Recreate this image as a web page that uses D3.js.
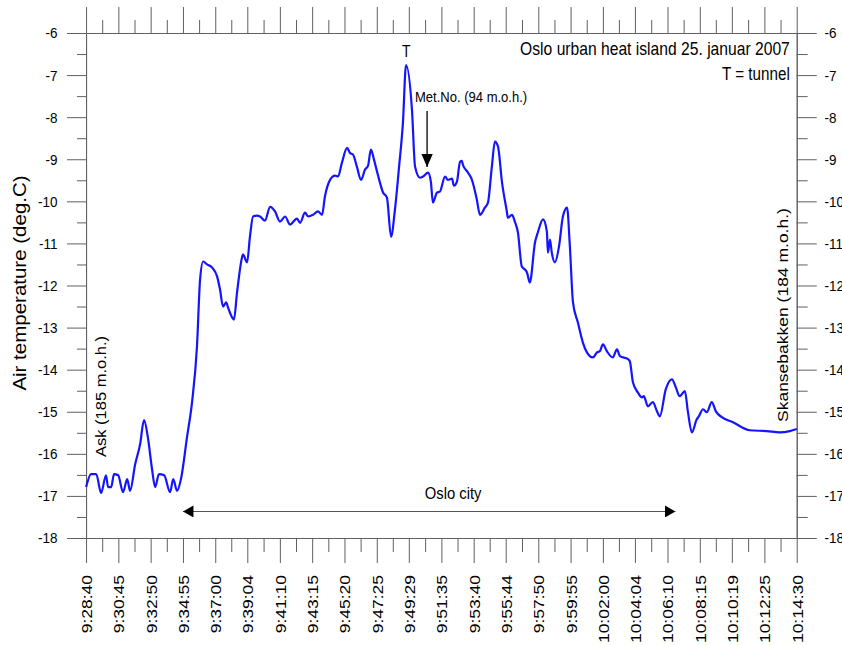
<!DOCTYPE html>
<html>
<head>
<meta charset="utf-8">
<title>Oslo urban heat island 25. januar 2007</title>
<style>
  body { margin: 0; background: #fff; }
  svg { display: block; }
  text { font-family: 'Liberation Sans', Arial, sans-serif; fill: #000; }
  .axis path, .axis line { stroke: #606060; stroke-width: 1px; vector-effect: non-scaling-stroke; }
  .axis text { fill: #000; }
</style>
</head>
<body>
<div id="chart"></div>
<script src="https://d3js.org/d3.v7.min.js"></script>
<script>
// time axis labels (hh:mm:ss), first one is where the run starts
var startTime = "9:28:40";
var timeLabels = ["9:28:40", "9:30:45", "9:32:50", "9:34:55", "9:37:00", "9:39:04",
    "9:41:10", "9:43:15", "9:45:20", "9:47:25", "9:49:29", "9:51:35", "9:53:40",
    "9:55:44", "9:57:50", "9:59:55", "10:02:00", "10:04:04", "10:06:10", "10:08:15",
    "10:10:19", "10:12:25", "10:14:30"];
var tempTicks = [-6, -7, -8, -9, -10, -11, -12, -13, -14, -15, -16, -17, -18];

// measurement run: seconds after start, air temperature (deg.C)
var elapsedSec = [0, 19, 39, 58, 77, 85, 97, 108, 124, 143, 159, 170, 190, 209, 224,
    240, 255, 267, 282, 302, 325, 337, 352, 367, 391, 410, 429, 441, 453, 468, 487,
    507, 518, 530, 542, 549, 565, 572, 584, 603, 607, 623, 634, 646, 661, 673, 692,
    712, 731, 750, 770, 789, 816, 828, 847, 859, 878, 897, 913, 924, 944, 963, 975,
    990, 1010, 1021, 1033, 1048, 1064, 1079, 1091, 1102, 1114, 1129, 1149, 1164, 1180,
    1195, 1211, 1226, 1238, 1261, 1273, 1292, 1304, 1323, 1334, 1342, 1358, 1369, 1389,
    1400, 1416, 1423, 1435, 1447, 1454, 1458, 1478, 1493, 1512, 1524, 1543, 1555, 1570,
    1582, 1594, 1609, 1628, 1632, 1648, 1659, 1671, 1686, 1698, 1706, 1717, 1737, 1748,
    1768, 1783, 1787, 1795, 1802, 1814, 1830, 1845, 1861, 1872, 1884, 1903, 1922, 1938,
    1961, 1977, 1988, 2000, 2015, 2038, 2054, 2066, 2097, 2104, 2116, 2135, 2151, 2158,
    2174, 2193, 2209, 2220, 2243, 2267, 2282, 2297, 2317, 2329, 2344, 2363, 2371, 2387,
    2402, 2421, 2437, 2460, 2503, 2568, 2634, 2684, 2723, 2750];
var airTemp = [-16.79, -16.48, -16.48, -16.93, -16.51, -16.79, -16.79, -16.48, -16.51,
    -16.91, -16.60, -16.88, -16.24, -15.77, -15.20, -15.65, -16.36, -16.79, -16.48,
    -16.51, -16.91, -16.60, -16.88, -16.60, -15.58, -14.77, -13.45, -11.86, -11.43,
    -11.50, -11.57, -11.79, -12.09, -12.50, -12.40, -12.52, -12.76, -12.81, -12.17,
    -11.34, -11.26, -11.45, -10.84, -10.36, -10.34, -10.36, -10.46, -10.13, -10.24,
    -10.48, -10.36, -10.55, -10.41, -10.51, -10.27, -10.36, -10.32, -10.24, -10.32,
    -9.89, -9.49, -9.39, -9.41, -9.08, -8.73, -8.85, -8.89, -9.18, -9.49, -9.25, -9.15,
    -8.77, -9.01, -9.37, -9.79, -9.91, -10.84, -10.20, -9.18, -8.13, -6.76, -7.83,
    -9.18, -9.44, -9.41, -9.32, -9.53, -10.03, -9.79, -9.77, -9.41, -9.49, -9.46, -9.63,
    -9.53, -9.06, -9.04, -9.13, -9.32, -9.49, -9.96, -10.32, -10.15, -10.03, -9.18,
    -8.58, -8.70, -9.53, -10.24, -10.39, -10.32, -10.48, -10.74, -11.55, -11.62, -11.69,
    -11.93, -10.98, -10.74, -10.43, -10.72, -11.22, -10.91, -11.22, -11.45, -11.07,
    -10.36, -10.15, -11.07, -12.40, -12.88, -13.35, -13.59, -13.71, -13.59, -13.56,
    -13.40, -13.56, -13.71, -13.52, -13.68, -13.75, -13.80, -14.30, -14.54, -14.66,
    -14.63, -14.87, -14.77, -14.99, -15.11, -14.47, -14.23, -14.42, -14.63, -14.51,
    -15.01, -15.49, -15.18, -15.11, -14.94, -15.01, -14.77, -14.99, -15.13, -15.25,
    -15.44, -15.46, -15.49, -15.46, -15.41];

// drawing space is wider than the window and squeezed to 842px (the original is narrow-looking)
var W = 968, H = 645;
var margin = {top: 33, right: 52, bottom: 107, left: 99};

var svg = d3.select("#chart").append("svg")
    .attr("width", 842)
    .attr("height", H)
    .attr("viewBox", "0 0 " + W + " " + H)
    .attr("preserveAspectRatio", "none");

function toSec(s) {
    var p = s.split(":").map(Number);
    return p[0] * 3600 + p[1] * 60 + p[2];
}
var t0 = toSec(startTime);
var majorX = timeLabels.map(function(l) { return toSec(l) - t0; });
var minorX = d3.pairs(majorX).map(function(p) { return (p[0] + p[1]) / 2; });
var minorY = d3.range(-17.5, -6, 1);

var x = d3.scaleLinear()
    .domain([0, majorX[majorX.length - 1]])
    .range([margin.left, W - margin.right]);
var y = d3.scaleLinear()
    .domain([-18, -6])
    .range([H - margin.bottom, margin.top]);

var bottom = H - margin.bottom, right = W - margin.right;
var plainNum = function(d) { return String(d); }; // hyphen minus like the original

// bottom axis with rotated time labels
svg.append("g").attr("class", "axis")
    .attr("transform", "translate(0," + bottom + ")")
    .call(d3.axisBottom(x).tickValues(minorX).tickSize(14).tickSizeOuter(0).tickFormat(""));
var xb = svg.append("g").attr("class", "axis")
    .attr("transform", "translate(0," + bottom + ")")
    .call(d3.axisBottom(x).tickValues(majorX).tickSize(25).tickSizeOuter(0)
        .tickFormat(function(d, i) { return timeLabels[i]; }));
xb.selectAll("text")
    .attr("transform", "rotate(-90)")
    .attr("x", -37)
    .attr("y", 0)
    .attr("dy", "0.36em")
    .style("text-anchor", "end")
    .style("font-size", "17.5px");

// top axis, ticks only
svg.append("g").attr("class", "axis")
    .attr("transform", "translate(0," + margin.top + ")")
    .call(d3.axisTop(x).tickValues(minorX).tickSize(13).tickSizeOuter(0).tickFormat(""));
svg.append("g").attr("class", "axis")
    .attr("transform", "translate(0," + margin.top + ")")
    .call(d3.axisTop(x).tickValues(majorX).tickSize(26).tickSizeOuter(0).tickFormat(""));

// left + right temperature axes
svg.append("g").attr("class", "axis")
    .attr("transform", "translate(" + margin.left + ",0)")
    .call(d3.axisLeft(y).tickValues(minorY).tickSize(10.5).tickSizeOuter(0).tickFormat(""));
svg.append("g").attr("class", "axis")
    .attr("transform", "translate(" + margin.left + ",0)")
    .call(d3.axisLeft(y).tickValues(tempTicks).tickSize(22).tickSizeOuter(0).tickPadding(11)
        .tickFormat(plainNum))
    .selectAll("text").style("font-size", "15.5px");
svg.append("g").attr("class", "axis")
    .attr("transform", "translate(" + right + ",0)")
    .call(d3.axisRight(y).tickValues(minorY).tickSize(12.5).tickSizeOuter(0).tickFormat(""));
svg.append("g").attr("class", "axis")
    .attr("transform", "translate(" + right + ",0)")
    .call(d3.axisRight(y).tickValues(tempTicks).tickSize(23).tickSizeOuter(0).tickPadding(9)
        .tickFormat(plainNum))
    .selectAll("text").style("font-size", "15.5px");

// arrow heads
var defs = svg.append("defs");
defs.append("marker")
    .attr("id", "head")
    .attr("viewBox", "0 0 10 10")
    .attr("refX", 10).attr("refY", 5)
    .attr("markerUnits", "userSpaceOnUse")
    .attr("markerWidth", 13).attr("markerHeight", 12)
    .attr("orient", "auto-start-reverse")
    .append("path").attr("d", "M0,0L10,5L0,10Z").attr("fill", "#000");
defs.append("marker")
    .attr("id", "headDown")
    .attr("viewBox", "0 0 10 10")
    .attr("refX", 10).attr("refY", 5)
    .attr("markerUnits", "userSpaceOnUse")
    .attr("markerWidth", 14).attr("markerHeight", 13)
    .attr("orient", "auto")
    .append("path").attr("d", "M0,0L10,5L0,10Z").attr("fill", "#000");

// the temperature curve
var line = d3.line()
    .x(function(d, i) { return x(elapsedSec[i]); })
    .y(function(d) { return y(d); })
    .curve(d3.curveMonotoneX);

svg.append("path")
    .datum(airTemp)
    .attr("d", line)
    .attr("fill", "none")
    .attr("stroke", "#1414ff")
    .attr("stroke-width", 2.2)
    .style("vector-effect", "non-scaling-stroke");

// Oslo city span
svg.append("line")
    .attr("x1", x(majorX[3])).attr("x2", x(majorX[18]) + 9)
    .attr("y1", y(-17.37)).attr("y2", y(-17.37))
    .attr("stroke", "#555").attr("stroke-width", 1.2)
    .attr("marker-start", "url(#head)").attr("marker-end", "url(#head)");
svg.append("text")
    .attr("x", 521).attr("y", y(-17.07))
    .attr("text-anchor", "middle")
    .style("font-size", "17px")
    .text("Oslo city");

// Met.No. pointer
svg.append("line")
    .attr("x1", 491).attr("x2", 491)
    .attr("y1", 111).attr("y2", 167)
    .attr("stroke", "#000").attr("stroke-width", 1.5)
    .attr("marker-end", "url(#headDown)");
svg.append("text")
    .attr("x", 477).attr("y", 102)
    .style("font-size", "15px")
    .text("Met.No. (94 m.o.h.)");

svg.append("text")
    .attr("x", 467).attr("y", 57)
    .attr("text-anchor", "middle")
    .style("font-size", "16px")
    .text("T");

svg.append("text")
    .attr("x", 908).attr("y", 55)
    .attr("text-anchor", "end")
    .style("font-size", "18px")
    .text("Oslo urban heat island 25. januar 2007");
svg.append("text")
    .attr("x", 908).attr("y", 80)
    .attr("text-anchor", "end")
    .style("font-size", "17.5px")
    .text("T = tunnel");

// rotated labels
svg.append("text")
    .attr("transform", "translate(30,283) rotate(-90)")
    .attr("text-anchor", "middle")
    .style("font-size", "20.5px")
    .text("Air temperature (deg.C)");
svg.append("text")
    .attr("transform", "translate(122,457) rotate(-90)")
    .style("font-size", "16.5px")
    .text("Ask (185 m.o.h.)");
svg.append("text")
    .attr("transform", "translate(906,422) rotate(-90)")
    .style("font-size", "17.5px")
    .text("Skansebakken (184 m.o.h.)");
</script>
</body>
</html>
